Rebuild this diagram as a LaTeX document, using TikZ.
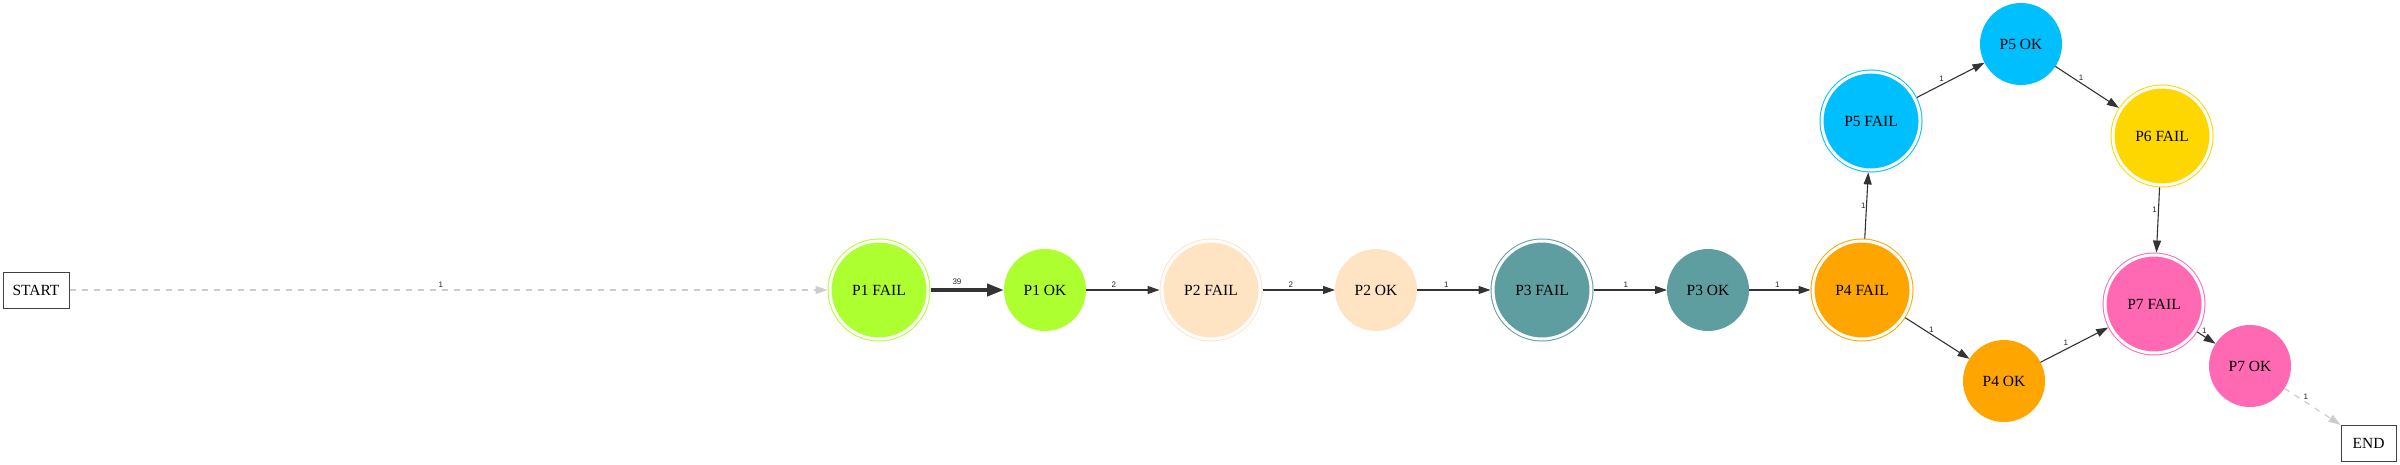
\documentclass[tikz,border=0pt]{standalone}
\usepackage{fontspec}
\setmainfont{Liberation Serif}
\newfontfamily\lblfont{Liberation Sans}
\usetikzlibrary{arrows.meta}
\definecolor{cPone}{HTML}{ADFF2F}
\definecolor{cPtwo}{HTML}{FFE4C4}
\definecolor{cPthree}{HTML}{5F9EA0}
\definecolor{cPfour}{HTML}{FFA500}
\definecolor{cPfive}{HTML}{00BFFF}
\definecolor{cPsix}{HTML}{FFD700}
\definecolor{cPseven}{HTML}{FF69B4}
\definecolor{edgecol}{HTML}{333333}
\definecolor{dashcol}{HTML}{CCCCCC}
\tikzset{
  nodefont/.style={font=\fontsize{15.5}{18}\selectfont},
  failnode/.style={circle, minimum size=98pt, inner sep=0pt, draw=#1, fill=#1,
    line width=1pt, double=white, double distance=3pt, outer sep=2.5pt, nodefont},
  oknode/.style={circle, minimum size=82pt, inner sep=0pt, fill=#1, draw=none,
    outer sep=0pt, nodefont},
  termbox/.style={draw=black!75, line width=1pt, fill=white, inner sep=0pt,
    minimum height=36pt, outer sep=0.5pt, nodefont},
  edge/.style={draw=edgecol, line width=1.1pt, -{Triangle[length=12pt,width=8pt]}},
  thickedge/.style={draw=edgecol, line width=4pt, -{Triangle[length=17pt,width=12pt]}},
  dashedge/.style={draw=dashcol, line width=1.2pt, dash pattern=on 6pt off 6pt,
    -{Triangle[length=12pt,width=8pt]}},
  lbl/.style={font=\lblfont\fontsize{8}{9}\selectfont, text=black!85},
}
\begin{document}
\begin{tikzpicture}[x=1pt, y=-1pt]
\useasboundingbox (0,0) rectangle (2400,465);
\node[termbox, minimum width=66pt] (start) at (36,290) {START};
\node[termbox, minimum width=55pt] (end) at (2368.5,443) {END};
\node[failnode=cPone] (p1f) at (879,290) {P1 FAIL};
\node[oknode=cPone] (p1o) at (1045,290) {P1 OK};
\node[failnode=cPtwo] (p2f) at (1211,290) {P2 FAIL};
\node[oknode=cPtwo] (p2o) at (1376,290) {P2 OK};
\node[failnode=cPthree] (p3f) at (1542,290) {P3 FAIL};
\node[oknode=cPthree] (p3o) at (1708,290) {P3 OK};
\node[failnode=cPfour] (p4f) at (1862,290) {P4 FAIL};
\node[oknode=cPfour] (p4o) at (2004,381) {P4 OK};
\node[failnode=cPfive] (p5f) at (1871,121) {P5 FAIL};
\node[oknode=cPfive] (p5o) at (2021,44) {P5 OK};
\node[failnode=cPsix] (p6f) at (2162,136) {P6 FAIL};
\node[failnode=cPseven] (p7f) at (2154,304) {P7 FAIL};
\node[oknode=cPseven] (p7o) at (2250,366) {P7 OK};

\draw[dashedge] (start) -- node[lbl, pos=0.49, anchor=south, inner sep=1.5pt] {1} (p1f);
\draw[thickedge] (p1f) -- node[lbl, pos=0.36, anchor=south, inner sep=3pt] {39} (p1o);
\draw[edge] (p1o) -- node[lbl, pos=0.38, anchor=south, inner sep=2pt] {2} (p2f);
\draw[edge] (p2f) -- node[lbl, pos=0.39, anchor=south, inner sep=2pt] {2} (p2o);
\draw[edge] (p2o) -- node[lbl, pos=0.40, anchor=south, inner sep=2pt] {1} (p3f);
\draw[edge] (p3f) -- node[lbl, pos=0.44, anchor=south, inner sep=2pt] {1} (p3o);
\draw[edge] (p3o) -- node[lbl, pos=0.46, anchor=south, inner sep=2pt] {1} (p4f);
\draw[edge] (p4f) -- node[lbl, pos=0.5, anchor=east, inner sep=0.5pt] {1} (p5f);
\draw[edge] (p5f) -- node[lbl, pos=0.42, anchor=south east, inner sep=1pt] {1} (p5o);
\draw[edge] (p5o) -- node[lbl, pos=0.36, anchor=south west, inner sep=0pt] {1} (p6f);
\draw[edge] (p6f) -- node[lbl, pos=0.35, anchor=east, inner sep=1pt] {1} (p7f);
\draw[edge] (p4f) -- node[lbl, pos=0.36, anchor=south west, inner sep=0pt] {1} (p4o);
\draw[edge] (p4o) -- node[lbl, pos=0.43, anchor=south east, inner sep=1pt] {1} (p7f);
\draw[edge] (p7f) -- node[lbl, pos=0.21, anchor=south west, inner sep=0.5pt] {1} (p7o);
\draw[dashedge] (p7o) -- node[lbl, pos=0.33, anchor=south west, inner sep=0pt] {1} (end);
\end{tikzpicture}
\end{document}
